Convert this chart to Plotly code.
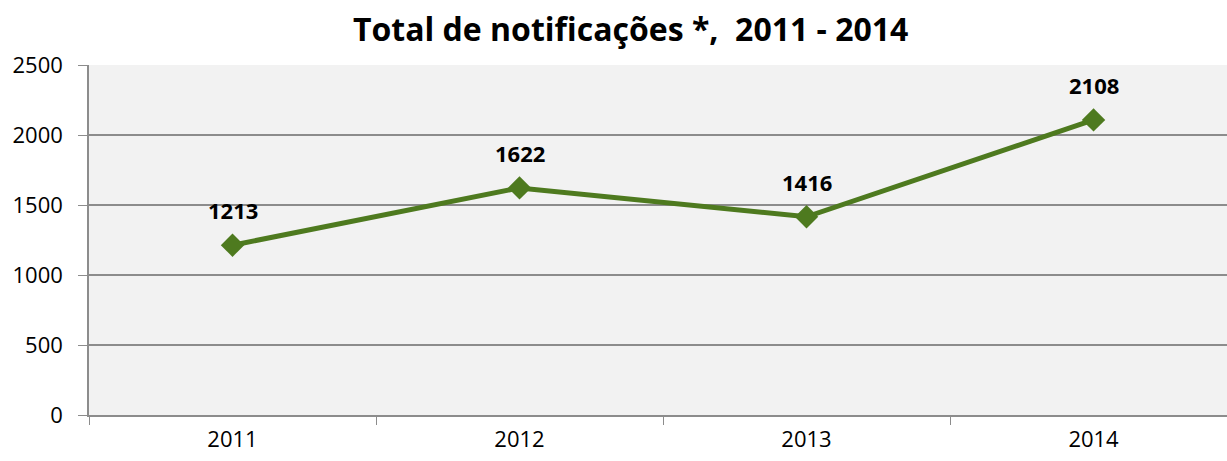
import plotly.graph_objects as go

years = ["2011", "2012", "2013", "2014"]
notificacoes = [1213, 1622, 1416, 2108]
y_ticks = [0, 500, 1000, 1500, 2000, 2500]

line_color = "#4E7A1F"
grid_color = "#8C8C8C"

fig = go.Figure(
    go.Scatter(
        x=years,
        y=notificacoes,
        mode="lines+markers",
        line=dict(color=line_color, width=5),
        marker=dict(symbol="diamond", size=18, color=line_color),
        hoverinfo="x+y",
    )
)

# data labels above each point (x as category index)
for i, v in enumerate(notificacoes):
    fig.add_annotation(
        x=i, y=v, text=f"<b>{v}</b>", showarrow=False,
        yshift=35, font=dict(size=22, color="black", family="Open Sans"),
    )

fig.update_layout(
    title=dict(
        text="<b>Total de notificações *,  2011 - 2014</b>",
        x=0.514, xanchor="center", y=0.935, yanchor="middle",
        font=dict(size=32, color="black", family="Open Sans"),
    ),
    width=1227,
    height=461,
    margin=dict(l=89, r=0, t=65, b=46),
    paper_bgcolor="white",
    plot_bgcolor="#F2F2F2",
    showlegend=False,
    font=dict(family="Open Sans", size=22, color="black"),
    xaxis=dict(
        type="category",
        range=[-0.5, 3.465],
        tickson="boundaries",
        ticks="outside",
        ticklen=8,
        tickcolor=grid_color,
        showgrid=False,
        showline=True,
        linecolor=grid_color,
        linewidth=1.5,
        ticklabelstandoff=4,
    ),
    yaxis=dict(
        range=[0, 2500],
        tickvals=y_ticks,
        ticks="outside",
        ticklen=9,
        tickcolor=grid_color,
        showgrid=True,
        gridcolor=grid_color,
        gridwidth=1.5,
        showline=True,
        linecolor=grid_color,
        linewidth=1.5,
        zeroline=False,
        ticklabelstandoff=11,
    ),
)

# drop the default page margin so the figure fills the window exactly
fig.write_html(
    "out.html",
    config={"displayModeBar": False},
    post_script="document.body.style.margin='0';document.body.style.overflow='hidden';",
)
